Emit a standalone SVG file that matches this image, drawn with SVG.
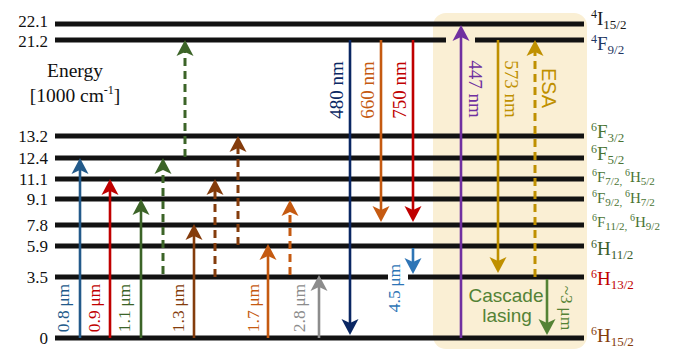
<svg xmlns="http://www.w3.org/2000/svg" width="678" height="350" viewBox="0 0 678 350">
<style>
.lvl{stroke:#121212;stroke-width:5;fill:none;}
.ar{stroke-width:2.6;fill:none;}
.da{stroke-width:3;fill:none;stroke-dasharray:8 5;}
</style>
<defs>
<marker id="m-blue" viewBox="-9 -9 18 18" markerWidth="18" markerHeight="18" refX="0" refY="0" orient="auto" markerUnits="userSpaceOnUse"><path d="M8,0 L-8,-8.5 L-4,0 L-8,8.5 Z" fill="#235a8a"/></marker>
<marker id="m-red" viewBox="-9 -9 18 18" markerWidth="18" markerHeight="18" refX="0" refY="0" orient="auto" markerUnits="userSpaceOnUse"><path d="M8,0 L-8,-8.5 L-4,0 L-8,8.5 Z" fill="#c00000"/></marker>
<marker id="m-dgreen" viewBox="-9 -9 18 18" markerWidth="18" markerHeight="18" refX="0" refY="0" orient="auto" markerUnits="userSpaceOnUse"><path d="M8,0 L-8,-8.5 L-4,0 L-8,8.5 Z" fill="#3c6428"/></marker>
<marker id="m-brown" viewBox="-9 -9 18 18" markerWidth="18" markerHeight="18" refX="0" refY="0" orient="auto" markerUnits="userSpaceOnUse"><path d="M8,0 L-8,-8.5 L-4,0 L-8,8.5 Z" fill="#843c0c"/></marker>
<marker id="m-orange" viewBox="-9 -9 18 18" markerWidth="18" markerHeight="18" refX="0" refY="0" orient="auto" markerUnits="userSpaceOnUse"><path d="M8,0 L-8,-8.5 L-4,0 L-8,8.5 Z" fill="#c55a11"/></marker>
<marker id="m-gray" viewBox="-9 -9 18 18" markerWidth="18" markerHeight="18" refX="0" refY="0" orient="auto" markerUnits="userSpaceOnUse"><path d="M8,0 L-8,-8.5 L-4,0 L-8,8.5 Z" fill="#8c8c8c"/></marker>
<marker id="m-navy" viewBox="-9 -9 18 18" markerWidth="18" markerHeight="18" refX="0" refY="0" orient="auto" markerUnits="userSpaceOnUse"><path d="M8,0 L-8,-8.5 L-4,0 L-8,8.5 Z" fill="#0a2763"/></marker>
<marker id="m-lblue" viewBox="-9 -9 18 18" markerWidth="18" markerHeight="18" refX="0" refY="0" orient="auto" markerUnits="userSpaceOnUse"><path d="M8,0 L-8,-8.5 L-4,0 L-8,8.5 Z" fill="#2e75b6"/></marker>
<marker id="m-purple" viewBox="-9 -9 18 18" markerWidth="18" markerHeight="18" refX="0" refY="0" orient="auto" markerUnits="userSpaceOnUse"><path d="M8,0 L-8,-8.5 L-4,0 L-8,8.5 Z" fill="#7030a0"/></marker>
<marker id="m-gold" viewBox="-9 -9 18 18" markerWidth="18" markerHeight="18" refX="0" refY="0" orient="auto" markerUnits="userSpaceOnUse"><path d="M8,0 L-8,-8.5 L-4,0 L-8,8.5 Z" fill="#bf9000"/></marker>
<marker id="m-green" viewBox="-9 -9 18 18" markerWidth="18" markerHeight="18" refX="0" refY="0" orient="auto" markerUnits="userSpaceOnUse"><path d="M8,0 L-8,-8.5 L-4,0 L-8,8.5 Z" fill="#548235"/></marker>
</defs>

<rect id="cascade-box" x="433" y="13" width="154" height="336" rx="13" fill="#faefd4"/>

<g id="axis" font-family="Liberation Serif" font-size="17" fill="#111" text-anchor="end">
<text x="48" y="27" font-family="Liberation Serif" font-size="17">22.1</text>
<text x="48" y="46.5" font-family="Liberation Serif" font-size="17">21.2</text>
<text x="48" y="142" font-family="Liberation Serif" font-size="17">13.2</text>
<text x="48" y="164" font-family="Liberation Serif" font-size="17">12.4</text>
<text x="48" y="185" font-family="Liberation Serif" font-size="17">11.1</text>
<text x="48" y="205" font-family="Liberation Serif" font-size="17">9.1</text>
<text x="48" y="231" font-family="Liberation Serif" font-size="17">7.8</text>
<text x="48" y="252" font-family="Liberation Serif" font-size="17">5.9</text>
<text x="48" y="283" font-family="Liberation Serif" font-size="17">3.5</text>
<text x="48" y="344" font-family="Liberation Serif" font-size="17">0</text>
<text x="75" y="77" font-family="Liberation Serif" font-size="19.5" text-anchor="middle">Energy</text>
<text x="75" y="102" font-family="Liberation Serif" font-size="19.5" text-anchor="middle">[1000 cm<tspan font-size="12" dy="-8">-1</tspan><tspan dy="8">]</tspan></text>
</g>

<g id="levels">
<g id="lvl-4I15"><line class="lvl" x1="55" y1="24" x2="584" y2="24"/></g>
<g id="lvl-4F9"><line class="lvl" x1="55" y1="40" x2="446" y2="40"/><line class="lvl" x1="475" y1="40" x2="584" y2="40"/></g>
<g id="lvl-6F3"><line class="lvl" x1="55" y1="136" x2="584" y2="136"/></g>
<g id="lvl-6F5"><line class="lvl" x1="55" y1="158" x2="584" y2="158"/></g>
<g id="lvl-6F7"><line class="lvl" x1="55" y1="179" x2="584" y2="179"/></g>
<g id="lvl-6F9"><line class="lvl" x1="55" y1="199" x2="584" y2="199"/></g>
<g id="lvl-6F11"><line class="lvl" x1="55" y1="225" x2="584" y2="225"/></g>
<g id="lvl-6H11"><line class="lvl" x1="55" y1="246" x2="584" y2="246"/></g>
<g id="lvl-6H13"><line class="lvl" x1="55" y1="277" x2="388" y2="277"/><line class="lvl" x1="408" y1="277" x2="584" y2="277"/></g>
<g id="lvl-6H15"><line class="lvl" x1="55" y1="338" x2="584" y2="338"/></g>
</g>

<g id="connectors">
<line class="ar" stroke="#235a8a" x1="80" y1="338" x2="80" y2="166" marker-end="url(#m-blue)"/>
<line class="ar" stroke="#c00000" x1="110" y1="338" x2="110" y2="187" marker-end="url(#m-red)"/>
<line class="ar" stroke="#3c6428" x1="141" y1="338" x2="141" y2="207" marker-end="url(#m-dgreen)"/>
<line class="da" stroke="#3c6428" x1="163" y1="274" x2="163" y2="166" marker-end="url(#m-dgreen)"/>
<line class="da" stroke="#3c6428" x1="185" y1="157" x2="185" y2="48" marker-end="url(#m-dgreen)"/>
<line class="ar" stroke="#843c0c" x1="194" y1="338" x2="194" y2="232" marker-end="url(#m-brown)"/>
<line class="da" stroke="#843c0c" x1="215" y1="277" x2="215" y2="187" marker-end="url(#m-brown)"/>
<line class="da" stroke="#843c0c" x1="238" y1="245" x2="238" y2="144" marker-end="url(#m-brown)"/>
<line class="ar" stroke="#c55a11" x1="268" y1="338" x2="268" y2="252" marker-end="url(#m-orange)"/>
<line class="da" stroke="#c55a11" x1="290" y1="275" x2="290" y2="208" marker-end="url(#m-orange)"/>
<line class="ar" stroke="#8c8c8c" x1="319" y1="338" x2="319" y2="283" marker-end="url(#m-gray)"/>
<line class="ar" stroke="#0a2763" x1="350" y1="40" x2="350" y2="327" marker-end="url(#m-navy)"/>
<line class="ar" stroke="#c55a11" x1="381" y1="40" x2="381" y2="214" marker-end="url(#m-orange)"/>
<line class="ar" stroke="#c00000" x1="413" y1="40" x2="413" y2="214" marker-end="url(#m-red)"/>
<line class="ar" stroke="#2e75b6" x1="413" y1="248" x2="413" y2="266" marker-end="url(#m-lblue)"/>
<line class="ar" stroke="#7030a0" x1="461" y1="338" x2="461" y2="33" marker-end="url(#m-purple)"/>
<line class="ar" stroke="#bf9000" x1="498" y1="40" x2="498" y2="265" marker-end="url(#m-gold)"/>
<line class="da" stroke="#bf9000" x1="535" y1="277" x2="535" y2="48" marker-end="url(#m-gold)"/>
<line class="ar" stroke="#548235" x1="547" y1="279" x2="547" y2="327" marker-end="url(#m-green)"/>
</g>

<g id="transition-labels" text-anchor="middle">
<text font-family="Liberation Serif" font-size="17.5" fill="#235a8a" transform="translate(69,308) rotate(-90)">0.8&#8201;μm</text>
<text font-family="Liberation Serif" font-size="17.5" fill="#c00000" transform="translate(99.5,308) rotate(-90)">0.9&#8201;μm</text>
<text font-family="Liberation Serif" font-size="17.5" fill="#3c6428" transform="translate(130,308) rotate(-90)">1.1&#8201;μm</text>
<text font-family="Liberation Serif" font-size="17.5" fill="#843c0c" transform="translate(184,308) rotate(-90)">1.3&#8201;μm</text>
<text font-family="Liberation Serif" font-size="17.5" fill="#c55a11" transform="translate(259,308) rotate(-90)">1.7&#8201;μm</text>
<text font-family="Liberation Serif" font-size="17.5" fill="#8c8c8c" transform="translate(305,308) rotate(-90)">2.8&#8201;μm</text>
<text font-family="Liberation Serif" font-size="17.5" fill="#2e75b6" transform="translate(400,288) rotate(-90)">4.5&#8201;μm</text>
<text font-family="Liberation Serif" font-size="19" fill="#0a2763" transform="translate(343,90) rotate(-90)">480 nm</text>
<text font-family="Liberation Serif" font-size="19" fill="#c55a11" transform="translate(374,90) rotate(-90)">660 nm</text>
<text font-family="Liberation Serif" font-size="19" fill="#c00000" transform="translate(406,90) rotate(-90)">750 nm</text>
<text font-family="Liberation Serif" font-size="19" fill="#7030a0" transform="translate(469,89) rotate(90)">447 nm</text>
<text font-family="Liberation Serif" font-size="19" fill="#bf9000" transform="translate(505,89) rotate(90)">573 nm</text>
<text font-family="Liberation Sans" font-size="20" fill="#bf9000" transform="translate(542,88) rotate(90)">ESA</text>
<text font-family="Liberation Serif" font-size="17.5" fill="#548235" transform="translate(561,308) rotate(90)">~3&#8201;μm</text>
<text font-family="Liberation Sans" font-size="19" fill="#548235" x="506" y="302">Cascade</text>
<text font-family="Liberation Sans" font-size="19" fill="#548235" x="507" y="322">lasing</text>
</g>

<g id="state-labels" font-family="Liberation Serif">
<text font-family="Liberation Serif" font-size="19" x="591" y="25" fill="#1a1a1a"><tspan font-size="12" dy="-7">4</tspan><tspan dy="7">I</tspan><tspan font-size="13" dy="4">15/2</tspan></text>
<text font-family="Liberation Serif" font-size="19" x="591" y="50" fill="#1f3864"><tspan font-size="12" dy="-7">4</tspan><tspan dy="7">F</tspan><tspan font-size="13" dy="4">9/2</tspan></text>
<text font-family="Liberation Serif" font-size="19" x="591" y="138" fill="#4a7434"><tspan font-size="12" dy="-7">6</tspan><tspan dy="7">F</tspan><tspan font-size="13" dy="4">3/2</tspan></text>
<text font-family="Liberation Serif" font-size="19" x="591" y="160" fill="#4a7434"><tspan font-size="12" dy="-7">6</tspan><tspan dy="7">F</tspan><tspan font-size="13" dy="4">5/2</tspan></text>
<text font-family="Liberation Serif" font-size="15" x="592" y="182" fill="#4a7434"><tspan font-size="10" dy="-6">6</tspan><tspan dy="6">F</tspan><tspan font-size="11" dy="3">7/2, </tspan><tspan font-size="10" dy="-9">6</tspan><tspan dy="6">H</tspan><tspan font-size="11" dy="3">5/2</tspan></text>
<text font-family="Liberation Serif" font-size="15" x="592" y="203" fill="#4a7434"><tspan font-size="10" dy="-6">6</tspan><tspan dy="6">F</tspan><tspan font-size="11" dy="3">9/2, </tspan><tspan font-size="10" dy="-9">6</tspan><tspan dy="6">H</tspan><tspan font-size="11" dy="3">7/2</tspan></text>
<text font-family="Liberation Serif" font-size="15" x="592" y="227" fill="#4a7434"><tspan font-size="10" dy="-6">6</tspan><tspan dy="6">F</tspan><tspan font-size="11" dy="3">11/2, </tspan><tspan font-size="10" dy="-9">6</tspan><tspan dy="6">H</tspan><tspan font-size="11" dy="3">9/2</tspan></text>
<text font-family="Liberation Serif" font-size="19" x="591" y="255" fill="#3b5e2b"><tspan font-size="12" dy="-7">6</tspan><tspan dy="7">H</tspan><tspan font-size="13" dy="4">11/2</tspan></text>
<text font-family="Liberation Serif" font-size="19" x="591" y="285" fill="#c00000"><tspan font-size="12" dy="-7">6</tspan><tspan dy="7">H</tspan><tspan font-size="13" dy="4">13/2</tspan></text>
<text font-family="Liberation Serif" font-size="19" x="591" y="342" fill="#843c0c"><tspan font-size="12" dy="-7">6</tspan><tspan dy="7">H</tspan><tspan font-size="13" dy="4">15/2</tspan></text>
</g>
</svg>
